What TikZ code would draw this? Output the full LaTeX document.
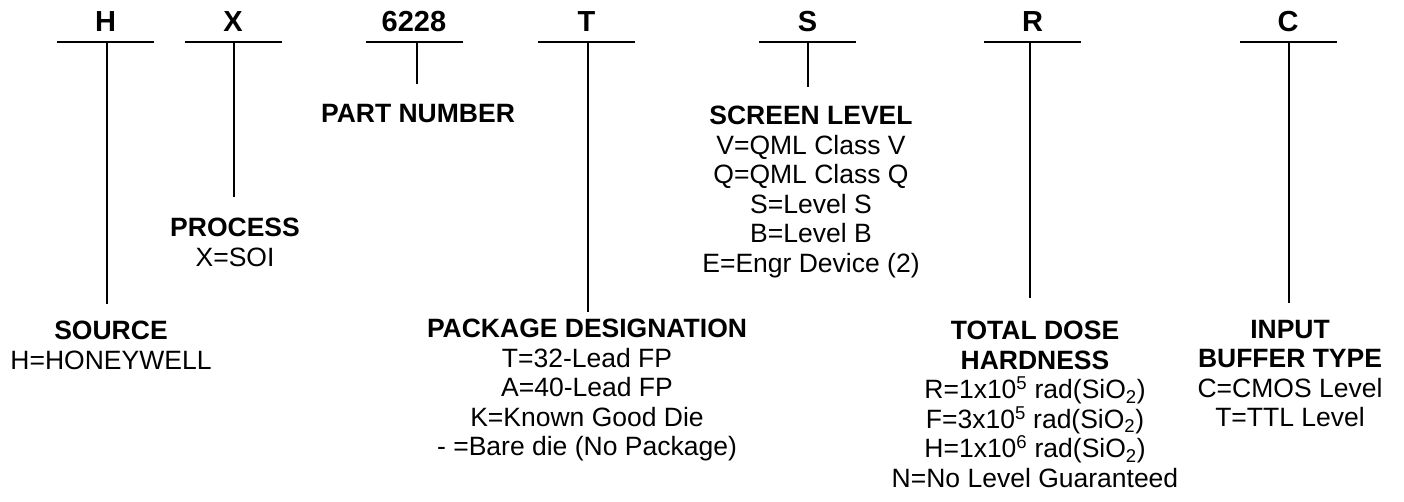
\documentclass[tikz,border=0pt]{standalone}
\usepackage{fontspec}
\setmainfont{Liberation Sans}
\usetikzlibrary{positioning}

\begin{document}
\begin{tikzpicture}[x=1pt,y=1pt,
	bar/.style={fill=black,inner sep=0pt,minimum width=97pt,minimum height=2.6pt},
	code/.style={font=\bfseries\fontsize{29}{32}\selectfont,inner sep=0pt},
	stem/.style={line width=2.2pt},
	field/.style={anchor=north,align=center,inner sep=0pt,font=\fontsize{26.5}{29.5}\selectfont}]
	\useasboundingbox (0,0) rectangle (1404,-502);
	% bars under the code letters
	\node[bar] (hbar) at (105.5,-42) {};
	\node[bar] (xbar) at (233,-42) {};
	\node[bar] (pbar) at (414,-42) {};
	\node[bar] (tbar) at (586.5,-42) {};
	\node[bar] (sbar) at (807.5,-42) {};
	\node[bar] (rbar) at (1032.5,-42) {};
	\node[bar] (cbar) at (1288,-42) {};
	% code letters
	\node[code,above=9pt of hbar] (h) {H};
	\node[code,above=9pt of xbar] (x) {X};
	\node[code,above=9pt of pbar] (p) {6228};
	\node[code,above=9pt of tbar] (t) {T};
	\node[code,above=9pt of sbar] (s) {S};
	\node[code,above=9pt of rbar] (r) {R};
	\node[code,above=9pt of cbar] (c) {C};
	% stems
	\coordinate (hend) at (107,-304);
	\coordinate (xend) at (234,-197);
	\coordinate (pend) at (417,-84);
	\coordinate (tend) at (588,-312);
	\coordinate (send) at (808,-87);
	\coordinate (rend) at (1030,-298);
	\coordinate (cend) at (1289,-303);
	\draw[stem] (hbar.center -| hend) -- (hend);
	\draw[stem] (xbar.center -| xend) -- (xend);
	\draw[stem] (pbar.center -| pend) -- (pend);
	\draw[stem] (tbar.center -| tend) -- (tend);
	\draw[stem] (sbar.center -| send) -- (send);
	\draw[stem] (rbar.center -| rend) -- (rend);
	\draw[stem] (cbar.center -| cend) -- (cend);
	% field descriptions
	\node[field] (source) at (111,-321) {\textbf{SOURCE}\\H=HONEYWELL};
	\node[field] (process) at (235,-218) {\textbf{PROCESS}\\X=SOI};
	\node[field] (partno) at (418,-104) {\textbf{PART NUMBER}};
	\node[field] (package) at (587,-319) {\textbf{PACKAGE DESIGNATION}\\T=32-Lead FP\\A=40-Lead FP\\K=Known Good Die\\- =Bare die (No Package)};
	\node[field] (screen) at (811,-106) {\textbf{SCREEN LEVEL}\\V=QML Class V\\Q=QML Class Q\\S=Level S\\B=Level B\\E=Engr Device (2)};
	\node[field] (dose) at (1035,-321) {\textbf{TOTAL DOSE}\\\textbf{HARDNESS}\\R=1x10\textsuperscript{5} rad(SiO\textsubscript{2})\\F=3x10\textsuperscript{5} rad(SiO\textsubscript{2})\\H=1x10\textsuperscript{6} rad(SiO\textsubscript{2})\\N=No Level Guaranteed};
	\node[field] (input) at (1290,-320) {\textbf{INPUT}\\\textbf{BUFFER TYPE}\\C=CMOS Level\\T=TTL Level};
\end{tikzpicture}
\end{document}
